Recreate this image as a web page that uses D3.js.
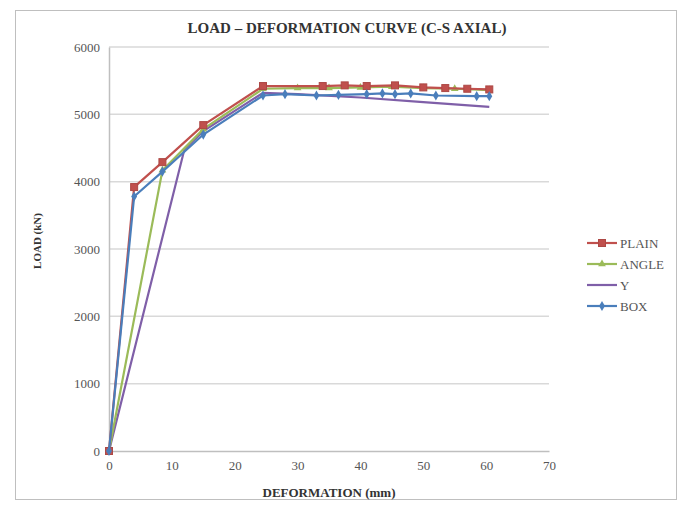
<!DOCTYPE html>
<html><head><meta charset="utf-8">
<script src="https://cdn.jsdelivr.net/npm/d3@7"></script>
<style>body{margin:0;background:#fff}svg{display:block}</style>
</head><body><svg id="c" width="684" height="511"></svg>
<script>
const xTicks = [0,10,20,30,40,50,60,70];
const yTicks = [0,1000,2000,3000,4000,5000,6000];
const seriesNames = ["PLAIN","ANGLE","Y","BOX"];
const plainX = [0,4,8.5,15,24.5,34,37.5,41,45.5,50,53.5,57,60.5];
const plainY = [0,3920,4290,4840,5420,5420,5430,5420,5430,5400,5390,5380,5370];
const angleX = [0,8.5,15,24.5,30,35,40,45,50,55,60.5];
const angleY = [0,4170,4780,5380,5390,5390,5400,5410,5390,5380,5360];
const yX = [0,12,15,24.5,30,40,50,60.5];
const yY = [0,4480,4750,5320,5300,5250,5180,5110];
const boxX = [0,4,8.5,15,24.5,28,33,36.5,41,43.5,45.5,48,52,58.5,60.5];
const boxY = [0,3780,4150,4700,5280,5300,5280,5290,5300,5310,5300,5310,5280,5270,5270];
const colors = ["#C0504D","#9BBB59","#7F5FA8","#4A7EBB"];
const markers = ["square","triangle","none","diamond"];

const svg = d3.select("#c");
const font = "'Liberation Serif','DejaVu Serif',serif";
svg.append("rect").attr("x",15.5).attr("y",10.5).attr("width",661).attr("height",489)
  .attr("fill","#fff").attr("stroke","#bfbfbf");

const x = d3.scaleLinear().domain([0,70]).range([109,549]);
const y = d3.scaleLinear().domain([0,6000]).range([451,47]);

svg.append("g").selectAll("line").data(yTicks.filter(d=>d>0)).join("line")
  .attr("x1",109).attr("x2",549).attr("y1",d=>y(d)).attr("y2",d=>y(d))
  .attr("stroke","#d9d9d9").attr("stroke-width",1.5);

const yAxis = svg.append("g").attr("transform","translate(109,0)")
  .call(d3.axisLeft(y).tickValues(yTicks).tickSize(0).tickPadding(9).tickFormat(d3.format("d")));
const xAxis = svg.append("g").attr("transform","translate(0,451)")
  .call(d3.axisBottom(x).tickValues(xTicks).tickSize(0).tickPadding(10).tickFormat(d3.format("d")));
[yAxis,xAxis].forEach(a=>{
  a.select(".domain").attr("stroke","#bfbfbf").attr("stroke-width",1.5);
  a.selectAll("text").attr("font-family",font).attr("font-size",13).attr("fill","#555");
});

const data = [[plainX,plainY],[angleX,angleY],[yX,yY],[boxX,boxY]];
const line = d3.line().x(d=>x(d[0])).y(d=>y(d[1]));
function drawMarker(g, type, cx, cy, col){
  if(type==="square") g.append("rect").attr("x",cx-3.5).attr("y",cy-3.5).attr("width",7).attr("height",7).attr("fill",col).attr("stroke",d3.color(col).darker(0.3));
  else if(type==="triangle") g.append("path").attr("d",d3.symbol(d3.symbolTriangle,26)()).attr("transform",`translate(${cx},${cy})`).attr("fill",col);
  else if(type==="diamond") g.append("path").attr("d",d3.symbol(d3.symbolDiamond,30)()).attr("transform",`translate(${cx},${cy})`).attr("fill",col);
}
const order = [2,1,0,3];
order.forEach(i=>{
  const pts = data[i][0].map((v,k)=>[v,data[i][1][k]]);
  const g = svg.append("g");
  g.append("path").attr("d",line(pts)).attr("fill","none").attr("stroke",colors[i]).attr("stroke-width",2.2);
  pts.forEach(p=>drawMarker(g,markers[i],x(p[0]),y(p[1]),colors[i]));
});

const lg = svg.append("g");
seriesNames.forEach((n,i)=>{
  const yy = 243 + i*21;
  lg.append("line").attr("x1",587).attr("x2",617).attr("y1",yy).attr("y2",yy).attr("stroke",colors[i]).attr("stroke-width",2.2);
  drawMarker(lg,markers[i],602,yy,colors[i]);
  lg.append("text").attr("x",620).attr("y",yy+4.5).text(n).attr("font-family",font).attr("font-size",13).attr("fill","#555");
});

svg.append("text").attr("x",347).attr("y",33).attr("text-anchor","middle").text("LOAD – DEFORMATION CURVE (C-S AXIAL)")
  .attr("font-family",font).attr("font-weight","bold").attr("font-size",15).attr("fill","#333");
svg.append("text").attr("x",329).attr("y",497).attr("text-anchor","middle").text("DEFORMATION (mm)")
  .attr("font-family",font).attr("font-weight","bold").attr("font-size",13).attr("fill","#333");
svg.append("text").attr("transform","translate(41,241) rotate(-90)").attr("text-anchor","middle").text("LOAD (kN)")
  .attr("font-family",font).attr("font-weight","bold").attr("font-size",11).attr("fill","#333");
</script></body></html>
